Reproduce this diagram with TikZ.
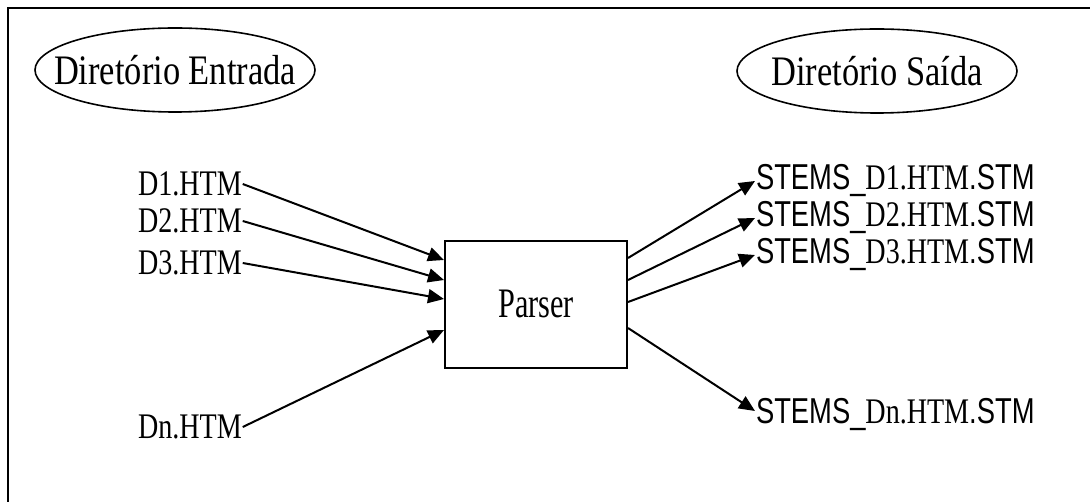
\documentclass[tikz,border=0pt]{standalone}
\usepackage{fontspec}
\setmainfont{Liberation Serif}
\newfontfamily\titlefont[FakeStretch=0.82]{Liberation Serif}
\newfontfamily\filefont[FakeStretch=0.78]{Liberation Serif}
\newfontfamily\procfont[FakeStretch=0.72]{Liberation Serif}
\newfontfamily\stemfont[FakeStretch=0.76]{Liberation Sans}
\usetikzlibrary{arrows.meta,shapes.geometric,positioning}

\begin{document}
\begin{tikzpicture}[x=0.5pt,y=-0.5pt,->,>={Triangle[length=8pt,width=7pt]},line width=1pt,
		dir node/.style={ellipse,draw,line width=0.8pt,minimum width=140pt,minimum height=42pt,inner xsep=-40pt,inner ysep=-20pt,font=\titlefont\fontsize{21}{25}\selectfont},
		file node/.style={anchor=west,inner sep=0pt,font=\filefont\fontsize{18}{21}\selectfont},
		stem node/.style={anchor=west,inner sep=0pt,font=\stemfont\fontsize{18}{21}\selectfont},
		proc node/.style={rectangle,draw,line width=1pt,minimum width=91pt,minimum height=63.5pt,font=\procfont\fontsize{21}{25}\selectfont}]
		% moldura
		\useasboundingbox (0,0) rectangle (1090,502);
		\draw[-,line width=0.8pt] (8,502) -- (8,8) -- (1090,8);
		
		% diretorios
		\node[dir node] (entrada) at (175,70) {Diretório Entrada\hspace{10pt}};
		\node[dir node] (saida) at (877,71) {Diretório Saída\hspace{16pt}};
		
		\node[proc node] (parser) at (536,304) {Parser};
		
		% arquivos de entrada
		\node[file node] (d1) at (137,184) {D1.HTM};
		\node[file node] (d2) at (137,221) {D2.HTM};
		\node[file node] (d3) at (137,263) {D3.HTM};
		\node[file node] (dn) at (137,427) {Dn.HTM};
		
		% arquivos de saida
		\newcommand{\stm}[1]{STEMS\_{\filefont #1}.STM}
		\node[stem node] (s1) at (755,181) {\stm{D1.HTM}};
		\node[stem node] (s2) at (755,218) {\stm{D2.HTM}};
		\node[stem node] (s3) at (755,255) {\stm{D3.HTM}};
		\node[stem node] (sn) at (755,415) {\stm{Dn.HTM}};
		
		\draw (d1.east) -- ([yshift=22pt]parser.west);
		\draw (d2.east) -- ([yshift=12pt]parser.west);
		\draw (d3.east) -- ([yshift=2.5pt]parser.west);
		\draw (dn.east) -- ([yshift=-13pt]parser.west);
		
		\draw ([yshift=23pt]parser.east) -- (s1.west);
		\draw ([yshift=12pt]parser.east) -- (s2.west);
		\draw ([yshift=1pt]parser.east) -- (s3.west);
		\draw ([yshift=-12pt]parser.east) -- ([yshift=2pt]sn.west);
\end{tikzpicture}
\end{document}
